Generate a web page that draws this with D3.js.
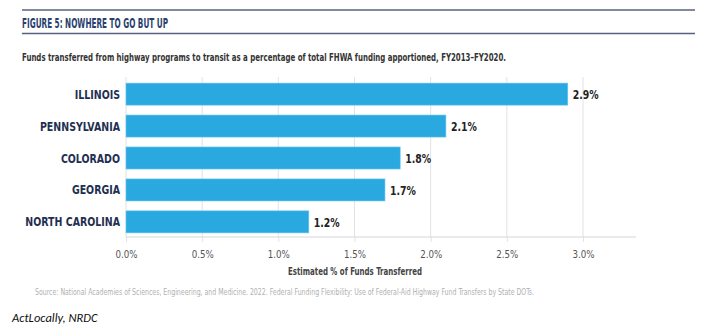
<!DOCTYPE html>
<html><head><meta charset="utf-8">
<script src="https://cdn.jsdelivr.net/npm/d3@7/dist/d3.min.js"></script>
<style>
body{margin:0;background:#fff;}
svg{display:block;}
</style></head>
<body><div id="chart"></div>
<script>
const states = ["ILLINOIS","PENNSYLVANIA","COLORADO","GEORGIA","NORTH CAROLINA"];
const values = [2.9, 2.1, 1.8, 1.7, 1.2];
const valueLabels = ["2.9%","2.1%","1.8%","1.7%","1.2%"];
const tickValues = [0, 0.5, 1.0, 1.5, 2.0, 2.5, 3.0];
const tickLabels = ["0.0%","0.5%","1.0%","1.5%","2.0%","2.5%","3.0%"];

const W = 709, H = 330;
const svg = d3.select("#chart").append("svg").attr("width", W).attr("height", H);
const NF = '"DejaVu Sans Condensed","Liberation Sans Narrow",sans-serif';

function condense(sel, factor) {
  sel.each(function() {
    const L = this.getComputedTextLength();
    d3.select(this).attr("textLength", L * factor).attr("lengthAdjust", "spacingAndGlyphs");
  });
}

// header rules
svg.append("line").attr("x1",22).attr("x2",695).attr("y1",10).attr("y2",10).attr("stroke","#56627d").attr("stroke-width",1.5);
svg.append("line").attr("x1",22).attr("x2",695).attr("y1",33.5).attr("y2",33.5).attr("stroke","#56627d").attr("stroke-width",1.5);
svg.append("text").attr("x",22).attr("y",27.5).attr("font-family",NF).attr("font-weight","bold")
  .attr("font-size",14).attr("fill","#2a3f6e").attr("textLength",146).attr("lengthAdjust","spacingAndGlyphs")
  .text("FIGURE 5: NOWHERE TO GO BUT UP");
svg.append("text").attr("x",22).attr("y",60.5).attr("font-family",NF).attr("font-weight","bold")
  .attr("font-size",10).attr("fill","#333").attr("textLength",484).attr("lengthAdjust","spacingAndGlyphs")
  .text("Funds transferred from highway programs to transit as a percentage of total FHWA funding apportioned, FY2013–FY2020.");

const x = d3.scaleLinear().domain([0, 3]).range([126, 583]);
const y = d3.scaleBand().domain(states).range([78, 238]).paddingInner(0.31).paddingOuter(0.16);

// gridlines
svg.append("g").selectAll("line").data(tickValues).join("line")
  .attr("x1", d => x(d)).attr("x2", d => x(d)).attr("y1", 77).attr("y2", 237)
  .attr("stroke", "#e2e2e8").attr("stroke-width", 1);

// axis
const axis = d3.axisBottom(x).tickValues(tickValues).tickFormat((d,i) => tickLabels[i]).tickSize(5).tickPadding(9);
const ag = svg.append("g").attr("transform","translate(0,237)").call(axis);
ag.select(".domain").remove();
ag.selectAll(".tick line").attr("stroke","#e2e2e8");
ag.selectAll(".tick text").attr("font-family",NF).attr("font-size",10.5).attr("fill","#555");
condense(ag.selectAll(".tick text"), 0.92);
svg.append("line").attr("x1",126).attr("x2",636).attr("y1",237).attr("y2",237).attr("stroke","#d6d6dc").attr("stroke-width",1);

// bars
svg.append("g").selectAll("rect").data(values).join("rect")
  .attr("x", x(0)).attr("y", (d,i) => y(states[i]))
  .attr("width", d => x(d) - x(0)).attr("height", y.bandwidth())
  .attr("fill", "#29a9e0").attr("stroke","#6cc6ee").attr("stroke-width",0.6);

// category labels
const cl = svg.append("g").selectAll("text").data(states).join("text")
  .attr("x", 120).attr("y", d => y(d) + y.bandwidth()/2).attr("dy","0.36em")
  .attr("text-anchor","end").attr("font-family",NF).attr("font-weight","bold")
  .attr("font-size",12.5).attr("fill","#1f2f52").text(d => d);
condense(cl, 0.84);

// value labels
const vl = svg.append("g").selectAll("text").data(values).join("text")
  .attr("x", d => x(d) + 5).attr("y", (d,i) => y(states[i]) + y.bandwidth()/2).attr("dy","0.36em")
  .attr("font-family",NF).attr("font-weight","bold")
  .attr("font-size",13).attr("fill","#222").text((d,i) => valueLabels[i]);
condense(vl, 0.8);

// axis title
const at = svg.append("text").attr("x",355).attr("y",275).attr("text-anchor","middle")
  .attr("font-family",NF).attr("font-weight","bold").attr("font-size",10.5).attr("fill","#444")
  .text("Estimated % of Funds Transferred");
at.attr("textLength",134).attr("lengthAdjust","spacingAndGlyphs");

// source
svg.append("text").attr("x",35).attr("y",295).attr("font-family",NF).attr("font-size",8)
  .attr("fill","#b0b0b0").attr("textLength",499).attr("lengthAdjust","spacingAndGlyphs")
  .text("Source: National Academies of Sciences, Engineering, and Medicine. 2022. Federal Funding Flexibility: Use of Federal-Aid Highway Fund Transfers by State DOTs.");

svg.append("text").attr("x",12).attr("y",322).attr("font-family","Carlito,'Open Sans','Liberation Sans',sans-serif")
  .attr("font-style","italic").attr("font-size",12.5).attr("fill","#111").text("ActLocally, NRDC");
</script></body></html>
